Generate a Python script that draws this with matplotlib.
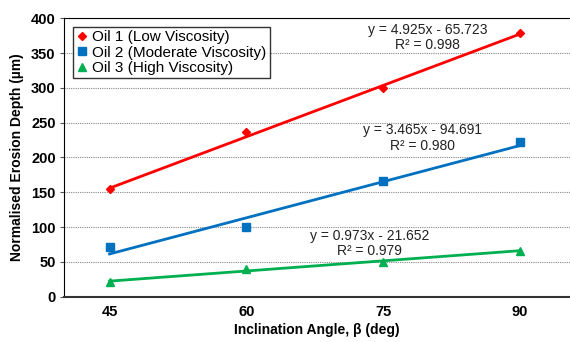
import numpy as np
import matplotlib
matplotlib.use('Agg')
import matplotlib.pyplot as plt

plt.rcParams['font.family'] = ['Liberation Sans', 'DejaVu Sans']

# Erosion depth vs inclination angle for three oils
angles = [45, 60, 75, 90]
oil1 = [154, 236, 300, 379]
oil2 = [71, 100, 166, 222]
oil3 = [21, 40, 50, 66]

# Linear trendline coefficients (slope, intercept, R^2)
slopes = [4.925, 3.465, 0.973]
intercepts = [-65.723, -94.691, -21.652]
r2 = [0.998, 0.980, 0.979]

names = ['Oil 1 (Low Viscosity)', 'Oil 2 (Moderate Viscosity)', 'Oil 3 (High Viscosity)']
colors = ['#FF0000', '#0070C0', '#00B050']
markers = ['D', 's', '^']
msizes = [4.5, 6, 6]
label_pos = [(79.9, 373), (79.3, 228), (73.5, 76)]

fig = plt.figure(figsize=(5.7, 3.42), dpi=100)
ax = fig.add_axes([0.1123, 0.133, 0.8877, 0.813])

x = np.array(angles, dtype=float)
for i, ys in enumerate([oil1, oil2, oil3]):
    ax.plot(angles, ys, linestyle='none', marker=markers[i], ms=msizes[i],
            color=colors[i], label=names[i], zorder=4)
    fit = slopes[i] * x[[0, -1]] + intercepts[i]
    ax.plot(x[[0, -1]], fit, color=colors[i], lw=2, zorder=3)
    eq = 'y = %.3fx - %.3f\nR² = %.3f' % (slopes[i], -intercepts[i], r2[i])
    ax.text(label_pos[i][0], label_pos[i][1], eq, ha='center', va='center',
            multialignment='center', fontsize=10, color='#222222',
            linespacing=1.1)

ax.set_xlim(40, 95.5)
ax.set_ylim(0, 400)
ax.set_xticks(angles)
ax.set_yticks(range(0, 401, 50))
ax.yaxis.grid(True, color='#888888', linestyle=(0, (1, 1)), lw=0.8)
ax.set_axisbelow(True)

for lab in ax.get_xticklabels() + ax.get_yticklabels():
    lab.set_fontweight('bold')
    lab.set_fontsize(10.5)
ax.tick_params(axis='x', length=0, pad=6)
ax.tick_params(axis='y', length=3, width=0.8, color='#555555', pad=3)

ax.spines['right'].set_visible(False)
ax.spines['left'].set_color('black')
ax.spines['top'].set_color('black')
ax.spines['bottom'].set_color('#333333')
ax.spines['bottom'].set_linewidth(1.5)

ax.set_xlabel('Inclination Angle, β (deg)', fontsize=10, fontweight='bold', labelpad=3)
ax.set_ylabel('Normalised Erosion Depth (µm)', fontsize=10, fontweight='bold', labelpad=5)

leg = ax.legend(loc='upper left', bbox_to_anchor=(0.018, 0.969), fontsize=11,
                frameon=True, fancybox=False, edgecolor='black',
                handlelength=0.7, handletextpad=0.35, borderpad=0.2,
                labelspacing=0.1, borderaxespad=0)
leg.get_frame().set_linewidth(1.0)

fig.savefig('out.png', dpi=100)
